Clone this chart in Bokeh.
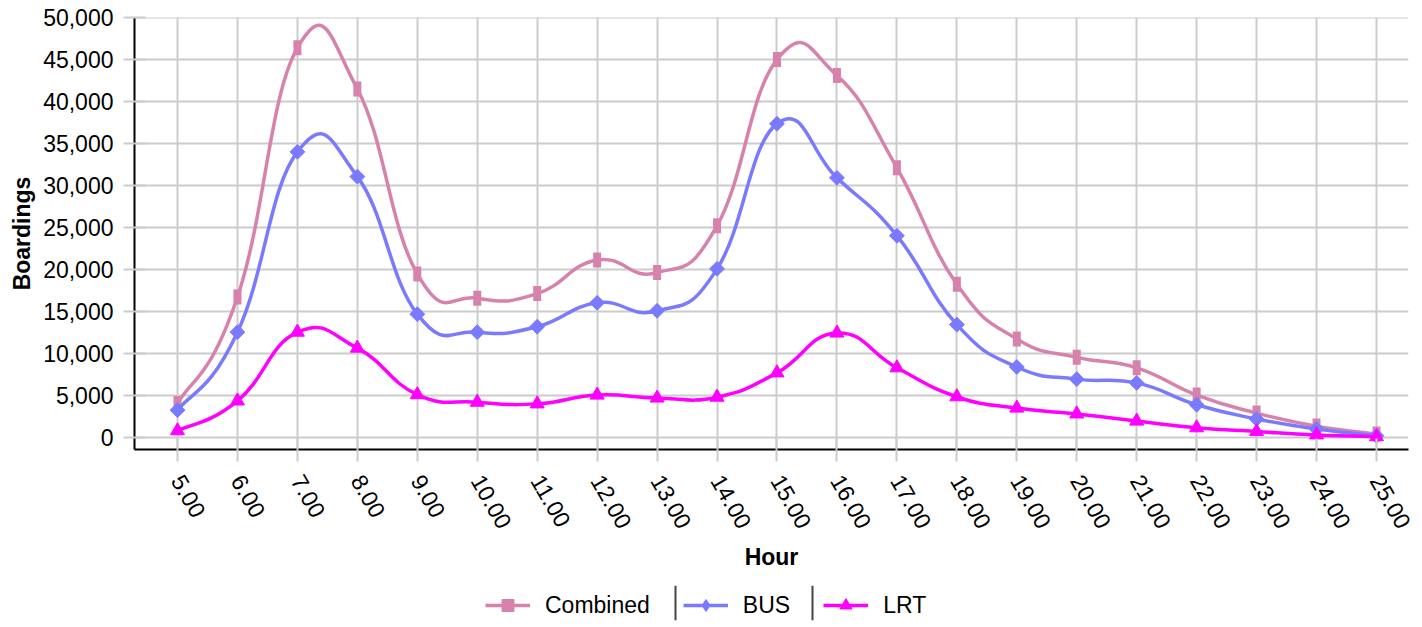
import math
from bokeh.plotting import figure
from bokeh.layouts import column
from bokeh.models import (Range1d, FixedTicker, NumeralTickFormatter, Legend,
                          LegendItem, ColumnDataSource, Span)
from bokeh.embed import file_html
from bokeh.resources import INLINE

# ---------------- data ----------------
hours = [5, 6, 7, 8, 9, 10, 11, 12, 13, 14, 15, 16, 17, 18, 19, 20, 21, 22, 23, 24, 25]
hour_labels = ["5.00", "6.00", "7.00", "8.00", "9.00", "10.00", "11.00", "12.00", "13.00",
               "14.00", "15.00", "16.00", "17.00", "18.00", "19.00", "20.00", "21.00",
               "22.00", "23.00", "24.00", "25.00"]
combined = [4000, 16700, 46400, 41500, 19450, 16550, 17100, 21100, 19600, 25200, 45000,
            43100, 32100, 18200, 11700, 9500, 8250, 5000, 2850, 1300, 350]
bus = [3200, 12500, 34000, 31050, 14650, 12500, 13150, 16000, 15050, 20050, 37350,
       30900, 24000, 13400, 8350, 6900, 6450, 3850, 2150, 950, 150]
lrt = [750, 4300, 12500, 10600, 5050, 4150, 3950, 5000, 4650, 4750, 7650,
       12400, 8250, 4800, 3450, 2750, 1900, 1100, 650, 250, 50]
y_ticks = [0, 5000, 10000, 15000, 20000, 25000, 30000, 35000, 40000, 45000, 50000]

series_names = ["Combined", "BUS", "LRT"]
series_colors = ["#d782ac", "#7a7aff", "#ff00ff"]

FONT = "Liberation Sans"
SMOOTH = 1.4


def bezier_source(xs, ys, k=SMOOTH):
    """Cardinal-spline rendering of the data points as cubic Bezier segments."""
    n = len(xs)
    d = dict(x0=[], y0=[], x1=[], y1=[], cx0=[], cy0=[], cx1=[], cy1=[])
    for i in range(n - 1):
        xp, yp = (xs[i - 1], ys[i - 1]) if i > 0 else (xs[i], ys[i])
        xn, yn = (xs[i + 2], ys[i + 2]) if i + 2 < n else (xs[i + 1], ys[i + 1])
        d["x0"].append(xs[i]); d["y0"].append(ys[i])
        d["x1"].append(xs[i + 1]); d["y1"].append(ys[i + 1])
        d["cx0"].append(xs[i] + k * (xs[i + 1] - xp) / 6)
        d["cy0"].append(ys[i] + k * (ys[i + 1] - yp) / 6)
        d["cx1"].append(xs[i + 1] - k * (xn - xs[i]) / 6)
        d["cy1"].append(ys[i + 1] - k * (yn - ys[i]) / 6)
    return ColumnDataSource(d)


p = figure(frame_width=1274, frame_height=432, output_backend="svg", toolbar_location=None,
           x_range=Range1d(4.2827, 25.534), y_range=Range1d(-1490, 50020),
           min_border_left=134, min_border_right=14, min_border_top=17,
           min_border_bottom=136)
p.outline_line_color = None
p.background_fill_color = "white"
p.border_fill_color = "white"

# grid
for g in (p.xgrid, p.ygrid):
    g.grid_line_color = "#cccccc"
    g.grid_line_width = 2

# axes
p.xaxis.ticker = FixedTicker(ticks=hours)
p.xaxis.major_label_overrides = {h: lbl for h, lbl in zip(hours, hour_labels)}
p.yaxis.ticker = FixedTicker(ticks=y_ticks)
p.yaxis.formatter = NumeralTickFormatter(format="0,0")
for ax in (p.xaxis[0], p.yaxis[0]):
    ax.axis_line_color = "black"
    ax.axis_line_width = 2
    ax.major_tick_line_color = "#cccccc"
    ax.major_tick_line_width = 2
    ax.minor_tick_line_color = None
    ax.major_label_text_font = FONT
    ax.major_label_text_font_size = "23px"
    ax.major_label_text_color = "black"
    ax.axis_label_text_font = FONT
    ax.axis_label_text_font_size = "23px"
    ax.axis_label_text_font_style = "bold"
    ax.axis_label_text_color = "black"
p.xaxis.axis_label = "Hour"
p.yaxis.axis_label = "Boardings"
p.xaxis.major_tick_in = 11
p.xaxis.major_tick_out = 12
p.yaxis.major_tick_in = 11
p.yaxis.major_tick_out = 11
p.xaxis.major_label_orientation = -math.pi / 3
p.xaxis.major_label_standoff = 15
p.yaxis.major_label_standoff = 10
p.xaxis.axis_label_standoff = 6
p.yaxis.axis_label_standoff = 5

series_values = [combined, bus, lrt]
for name, color, vals in zip(series_names, series_colors, series_values):
    src = bezier_source(hours, vals)
    p.bezier(x0="x0", y0="y0", x1="x1", y1="y1", cx0="cx0", cy0="cy0",
             cx1="cx1", cy1="cy1", source=src, line_color=color, line_width=3.5)
    if name == "Combined":
        p.scatter(hours, vals, marker="dash", size=15, angle=math.pi / 2,
                  line_color=color, line_width=8)
    elif name == "BUS":
        p.scatter(hours, vals, marker="square", size=10.5, angle=math.pi / 4,
                  fill_color=color, line_color=color, line_width=1)
    else:
        p.scatter(hours, vals, marker="triangle", size=14,
                  fill_color=color, line_color=color, line_width=1)

# ---------------- legend strip under the chart ----------------
legend_markers = {"Combined": "square", "BUS": "diamond", "LRT": "triangle"}
lg = figure(frame_width=1274, frame_height=35, output_backend="svg", toolbar_location=None,
            x_range=Range1d(0, 1274), y_range=Range1d(0, 1),
            x_axis_location=None, y_axis_location=None,
            min_border_left=134, min_border_right=14, min_border_top=0,
            min_border_bottom=7)
lg.outline_line_color = None
lg.xgrid.visible = False
lg.ygrid.visible = False
nan = float("nan")
items = []
for name, color in zip(series_names, series_colors):
    # swatch-only renderers (a single undefined point, so nothing shows in the strip)
    ln = lg.line(x=[nan], y=[nan], line_color=color, line_width=3.5)
    sw = lg.scatter(x=[nan], y=[nan], marker=legend_markers[name], fill_color=color,
                    line_color=color, line_width=1)
    items.append(LegendItem(label=name, renderers=[ln, sw]))
legend = Legend(items=items, orientation="horizontal", location=(351, 0),
                label_text_font=FONT, label_text_font_size="23px",
                label_text_color="black", glyph_width=45, glyph_height=30,
                label_standoff=15, spacing=33, padding=0, margin=0,
                border_line_color=None, background_fill_alpha=0)
lg.add_layout(legend)
# thin separators between legend entries
for sep_x in (541, 678):
    lg.add_layout(Span(location=sep_x, dimension="height", line_color="#444444",
                       line_width=2))

layout = column(p, lg, spacing=0)
open("out.html", "w").write(file_html(layout, INLINE))
